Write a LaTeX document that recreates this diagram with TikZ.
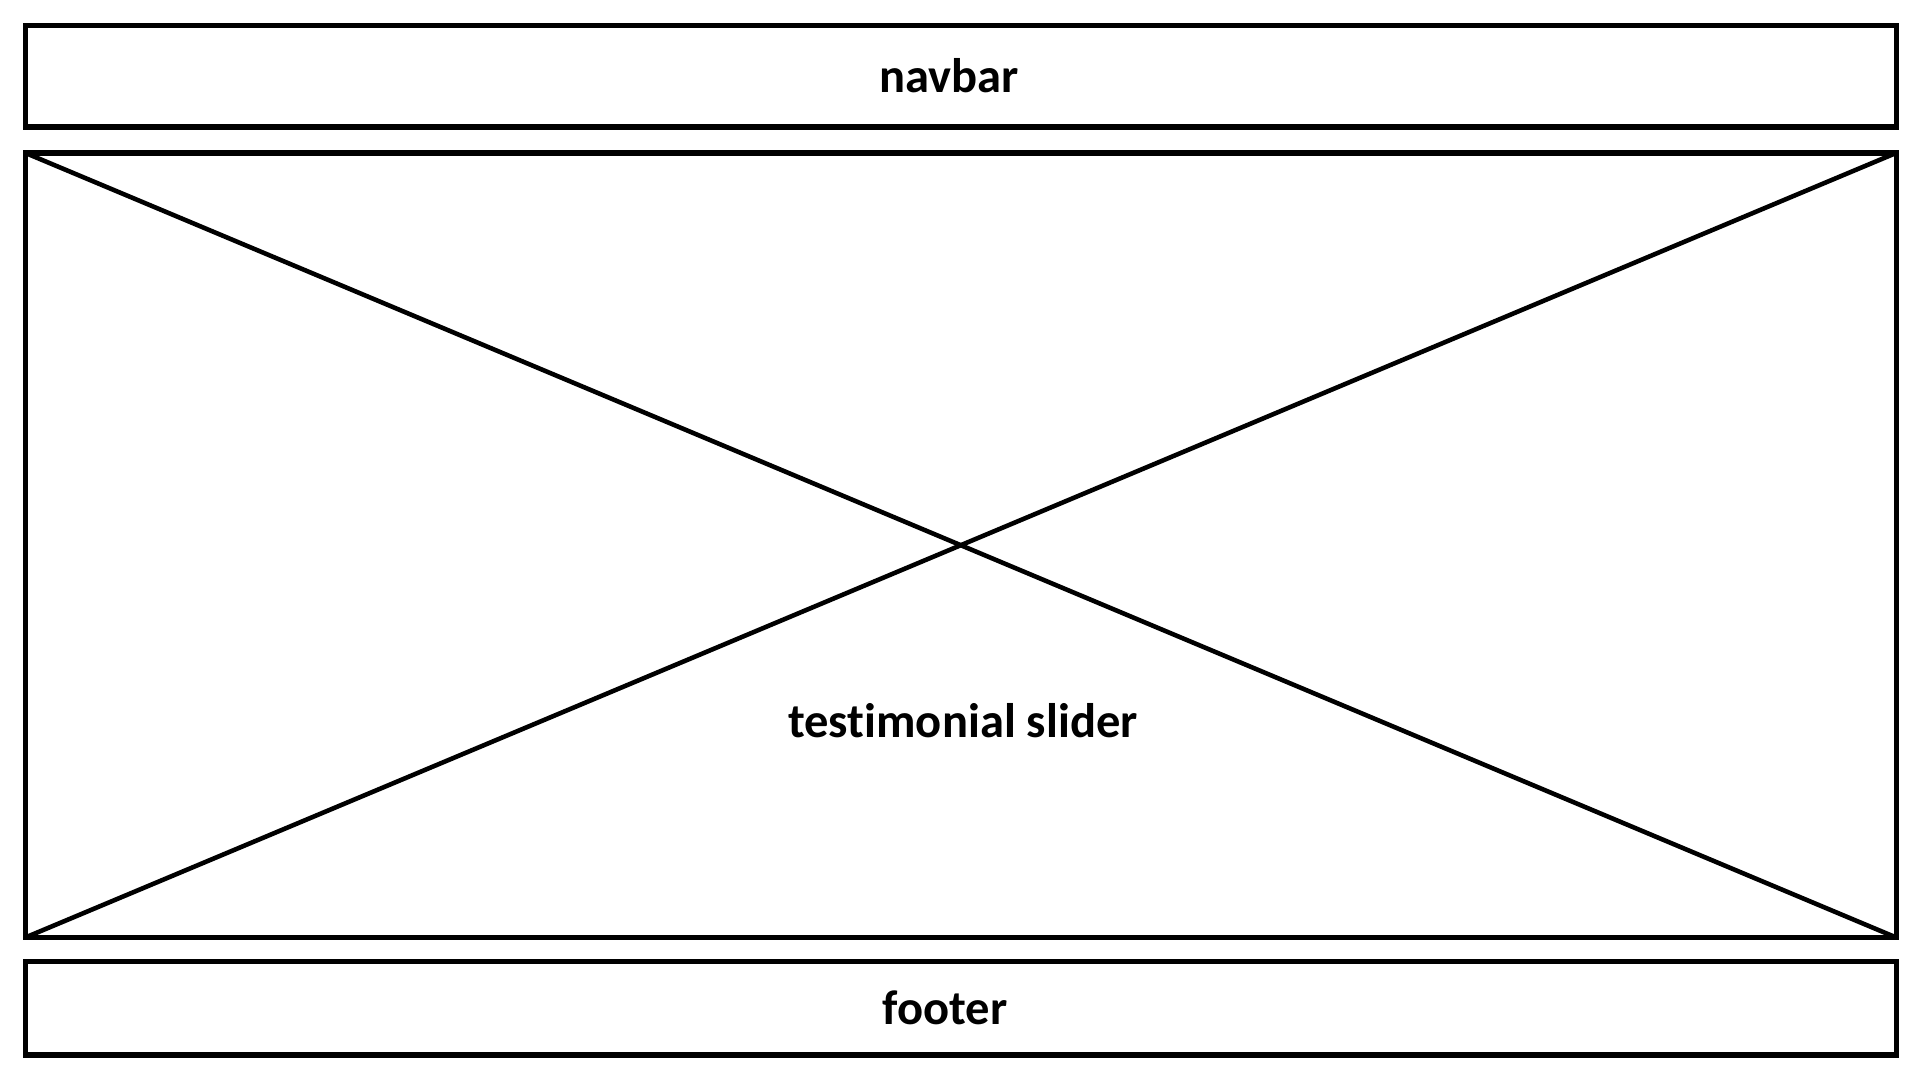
\documentclass[tikz,border=0pt]{standalone}
\usepackage{fontspec}
\setmainfont{Carlito}[RawFeature=-liga]
\begin{document}
\begin{tikzpicture}[x=0.01cm,y=-0.01cm,
  box/.style={draw=black,line width=1.45pt,rectangle,inner sep=0pt,outer sep=0pt,anchor=north west},
  lbl/.style={font=\fontsize{13.8pt}{16pt}\selectfont\bfseries,anchor=base,inner sep=0pt},
  cross/.style={line width=1.3pt}]
\useasboundingbox (0,0) rectangle (1920,1080);
\node[box,minimum width=18.695cm,minimum height=1.015cm] (navbar) at (25.5,25.5) {};
\node[box,minimum width=18.695cm,minimum height=7.84cm] (slider) at (25.5,153) {};
\node[box,minimum width=18.695cm,minimum height=0.935cm] (footer) at (25.5,961.5) {};
\draw[cross] (slider.north west) -- (slider.south east);
\draw[cross] (slider.south west) -- (slider.north east);
\node[lbl] (navtext) at (949,92.5) {navbar};
\node[lbl] (slidertext) at (963,737.5) {testimonial slider};
\node[lbl] (footertext) at (945,1024.5) {footer};
\end{tikzpicture}
\end{document}
